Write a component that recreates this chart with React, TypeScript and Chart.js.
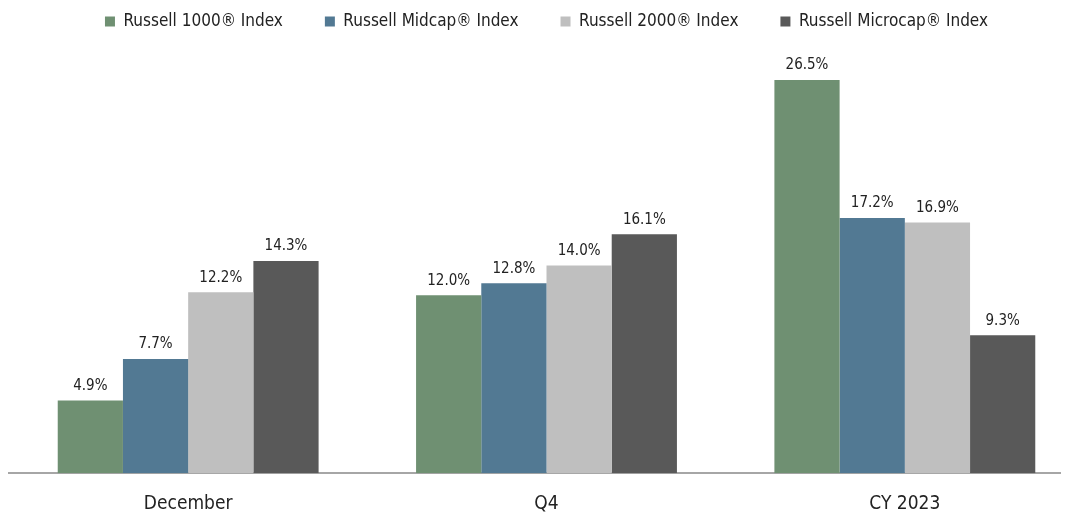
import React, { useEffect, useRef } from "react";
import { Chart, registerables } from "chart.js";

Chart.register(...registerables);

const categories = ["December", "Q4", "CY 2023"];
const seriesNames = [
  "Russell 1000® Index",
  "Russell Midcap® Index",
  "Russell 2000® Index",
  "Russell Microcap® Index",
];
const russell1000 = [4.9, 12.0, 26.5];
const russellMidcap = [7.7, 12.8, 17.2];
const russell2000 = [12.2, 14.0, 16.9];
const russellMicrocap = [14.3, 16.1, 9.3];
const seriesColors = ["#6F9072", "#527993", "#BFBFBF", "#595959"];

const FONT = "'Liberation Sans Narrow', 'DejaVu Sans Condensed', 'Roboto', sans-serif";

const valueLabels = {
  id: "valueLabels",
  afterDatasetsDraw(chart: any) {
    const ctx = chart.ctx;
    ctx.save();
    ctx.font = `15px ${FONT}`;
    ctx.fillStyle = "#222222";
    ctx.textAlign = "center";
    ctx.textBaseline = "bottom";
    chart.data.datasets.forEach((ds: any, i: number) => {
      const meta = chart.getDatasetMeta(i);
      meta.data.forEach((bar: any, j: number) => {
        const v = ds.data[j];
        ctx.fillText(v.toFixed(1) + "%", bar.x, bar.y - 7);
      });
    });
    ctx.restore();
  },
};

export default function App() {
  const ref = useRef<HTMLCanvasElement>(null);
  useEffect(() => {
    if (!ref.current) return;
    const all = [russell1000, russellMidcap, russell2000, russellMicrocap];
    const chart = new Chart(ref.current, {
      type: "bar",
      data: {
        labels: categories,
        datasets: all.map((d, i) => ({
          label: seriesNames[i],
          data: d,
          backgroundColor: seriesColors[i],
          borderWidth: 0,
          categoryPercentage: 0.728,
          barPercentage: 1.0,
        })),
      },
      options: {
        animation: false,
        responsive: false,
        maintainAspectRatio: false,
        layout: { padding: { left: 9, right: 16, top: -29, bottom: 0 } },
        plugins: {
          legend: {
            position: "top",
            labels: {
              boxWidth: 10,
              boxHeight: 10,
              padding: 42,
              color: "#222222",
              font: { family: FONT, size: 17 },
            },
          },
          tooltip: { enabled: false },
        },
        scales: {
          x: {
            grid: { display: false, drawTicks: false },
            border: { display: true, color: "#A6A6A6", width: 2 },
            ticks: { color: "#222222", padding: 19, font: { family: FONT, size: 19 } },
          },
          y: {
            display: false,
            min: 0,
            max: 29.2,
          },
        },
      },
      plugins: [valueLabels],
    });
    return () => chart.destroy();
  }, []);
  return (
    <div style={{ position: "relative", margin: "-8px 0 0 -8px", width: 1069, height: 515, overflow: "hidden" }}>
      <canvas ref={ref} width={1100} height={534} style={{ display: "block", width: 1100, height: 534 }} />
    </div>
  );
}
